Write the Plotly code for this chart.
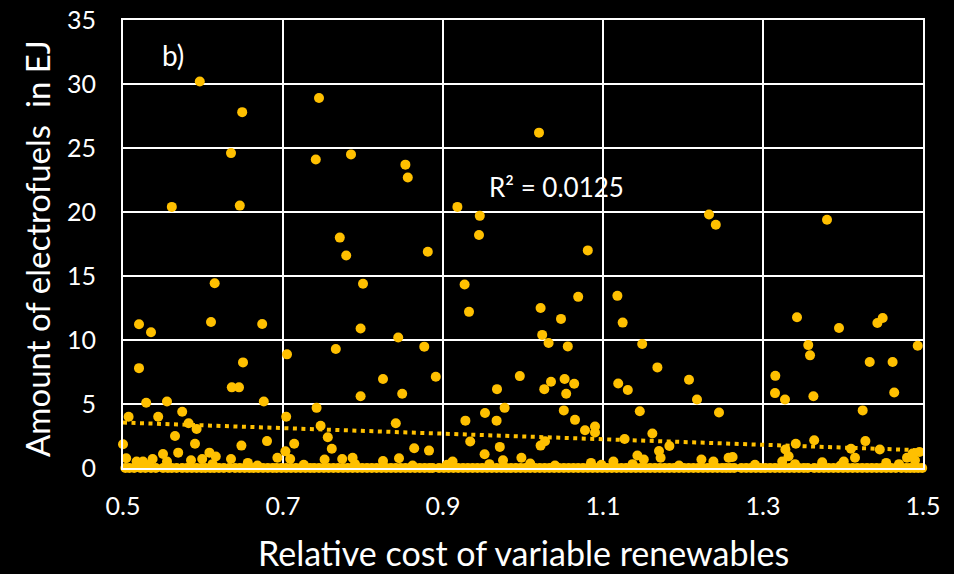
import plotly.graph_objects as go

GOLD = "#FFC000"

# Points clearly above the zero band (x = relative cost, y = EJ)
pts_x = [
    0.596, 0.649, 0.635, 0.646, 0.561, 0.745, 0.741, 0.785, 0.853, 0.856, 1.020, 0.918, 0.946, 0.945,
    0.771, 0.779, 0.881, 1.081, 1.2325, 1.241, 1.380,
    0.6146, 0.520, 0.535, 0.610, 0.674, 0.800, 0.797, 0.844, 0.705, 0.766, 0.520, 0.650, 0.825, 0.636, 0.645,
    0.927, 0.9325, 1.022, 1.069, 1.0475, 1.118, 1.1246, 1.024, 1.032, 1.056, 1.149, 0.8766, 0.891, 0.996,
    1.168, 0.9675, 1.035, 1.052, 1.064, 1.119, 1.131, 1.0266,
    1.3425, 1.395, 1.443, 1.4496, 1.3566, 1.3588, 1.4934, 1.4334, 1.462, 1.2075, 1.3154, 1.315, 1.464,
    0.529, 0.555, 0.676, 0.507, 0.544, 0.574, 0.582, 0.592, 0.704, 0.742, 0.747, 0.756, 0.565, 0.500,
    0.590, 0.648, 0.680, 0.714, 0.550, 0.569, 0.537, 0.504, 0.517, 0.525, 0.555, 0.585, 0.608, 0.616,
    0.599, 0.635, 0.693, 0.703, 0.709, 0.752, 0.656,
    0.797, 0.849, 0.841, 0.928, 0.9525, 0.967, 0.977, 0.934, 0.971, 0.864, 0.8825, 0.998, 0.845, 0.952,
    0.761, 0.774, 0.787, 0.825, 0.975, 0.912,
    1.054, 1.2175, 1.051, 1.065, 1.0775, 1.090, 1.090, 1.146, 1.245, 1.1617, 1.183, 1.127, 1.0275, 1.022,
    1.170, 1.172, 1.143, 1.151, 1.223, 1.238, 1.257, 1.113, 1.085, 1.009,
    1.3275, 1.363, 1.4246, 1.341, 1.364, 1.428, 1.410, 1.446, 1.415, 1.328, 1.332, 1.324, 1.262, 1.487,
    1.4955, 1.480, 1.490, 1.374, 1.401, 1.454,
]
pts_y = [
    30.2, 27.8, 24.6, 20.5, 20.4, 28.9, 24.1, 24.5, 23.7, 22.7, 26.2, 20.4, 19.7, 18.2,
    18.0, 16.6, 16.9, 17.0, 19.8, 19.0, 19.4,
    14.44, 11.23, 10.6, 11.4, 11.25, 14.4, 10.9, 10.2, 8.88, 9.3, 7.8, 8.25, 6.95, 6.3, 6.3,
    14.33, 12.2, 12.5, 13.37, 11.65, 13.45, 11.36, 10.4, 9.77, 9.5, 9.69, 9.48, 7.13, 7.18,
    7.86, 6.16, 6.74, 6.95, 6.58, 6.6, 6.1, 6.16,
    11.78, 10.94, 11.33, 11.72, 9.6, 8.8, 9.55, 8.28, 8.28, 6.9, 7.2, 5.85, 5.9,
    5.1, 5.2, 5.2, 4.0, 4.0, 4.4, 3.5, 3.05, 4.0, 4.7, 3.3, 2.4, 2.5, 1.86,
    1.9, 1.75, 2.1, 1.9, 1.1, 1.2, 0.7, 0.76, 0.5, 0.5, 0.5, 0.6, 1.2, 0.9,
    0.7, 0.7, 0.8, 1.3, 0.7, 0.66, 0.4,
    5.6, 5.8, 3.5, 3.7, 4.3, 3.7, 4.7, 2.07, 1.65, 1.54, 1.36, 0.8, 0.76, 1.07,
    1.5, 0.7, 0.8, 0.55, 0.6, 0.5,
    5.8, 5.35, 4.5, 3.76, 2.95, 3.24, 2.77, 4.44, 4.34, 2.69, 1.72, 2.27, 2.09, 1.75,
    1.33, 0.8, 0.97, 0.66, 0.66, 0.5, 0.8, 0.5, 0.4, 0.35,
    5.35, 5.6, 4.5, 1.9, 2.17, 2.1, 1.5, 1.44, 0.8, 1.44, 0.92, 0.5, 0.86, 1.13,
    1.25, 0.8, 0.6, 0.45, 0.5, 0.4,
]

# Dense band of runs with (almost) zero electrofuels
zero_x = [
    0.503, 0.508, 0.514, 0.522, 0.528, 0.535, 0.541, 0.550, 0.556, 0.561, 0.567, 0.574, 0.580, 0.586,
    0.592, 0.598, 0.603, 0.609, 0.614, 0.620, 0.626, 0.633, 0.640, 0.646, 0.652, 0.658, 0.663, 0.669,
    0.675, 0.681, 0.687, 0.692, 0.698, 0.704, 0.710, 0.716, 0.722, 0.728, 0.734, 0.739, 0.745, 0.751,
    0.757, 0.763, 0.769, 0.775, 0.781, 0.787, 0.793, 0.799, 0.805, 0.811, 0.817, 0.823, 0.829, 0.835,
    0.841, 0.847, 0.853, 0.859, 0.865, 0.871, 0.877, 0.883, 0.887, 0.895, 0.901, 0.907, 0.913, 0.919,
    0.925, 0.931, 0.937, 0.943, 0.949, 0.955, 0.961, 0.967, 0.973, 0.979, 0.985, 0.991, 0.997, 1.003,
    1.009, 1.015, 1.021, 1.027, 1.033, 1.039, 1.045, 1.051, 1.057, 1.063, 1.069, 1.075, 1.081, 1.087,
    1.093, 1.099, 1.105, 1.111, 1.117, 1.123, 1.129, 1.135, 1.141, 1.147, 1.153, 1.159, 1.165, 1.171,
    1.177, 1.183, 1.189, 1.195, 1.201, 1.207, 1.213, 1.219, 1.225, 1.231, 1.237, 1.243, 1.249, 1.254,
    1.259, 1.264, 1.273, 1.279, 1.285, 1.291, 1.297, 1.303, 1.309, 1.315, 1.321, 1.327, 1.333, 1.339,
    1.345, 1.351, 1.356, 1.364, 1.370, 1.376, 1.382, 1.388, 1.394, 1.400, 1.406, 1.412, 1.418, 1.424,
    1.430, 1.436, 1.442, 1.448, 1.454, 1.460, 1.466, 1.473, 1.479, 1.484, 1.489, 1.494, 1.499,
]
zero_y = [0.0] * len(zero_x)

# Small bumps just above the zero band
bump_x = [0.533, 0.612, 0.668, 0.726, 0.790, 0.862, 0.905, 0.958, 1.040, 1.098, 1.137, 1.195, 1.290, 1.340, 1.397, 1.470]
bump_y = [0.25, 0.3, 0.2, 0.25, 0.3, 0.2, 0.25, 0.3, 0.2, 0.25, 0.3, 0.2, 0.25, 0.3, 0.2, 0.3]

# Linear trendline endpoints (Excel fit, R² = 0.0125)
trend_x = [0.5, 1.5]
trend_y = [3.55, 1.38]

x_ticks = [0.5, 0.7, 0.9, 1.1, 1.3, 1.5]
x_tick_labels = ["0.5", "0.7", "0.9", "1.1", "1.3", "1.5"]
y_ticks = [0, 5, 10, 15, 20, 25, 30, 35]

FONT = "Lato, 'Open Sans', sans-serif"

fig = go.Figure()
fig.add_trace(go.Scatter(
    x=zero_x + bump_x + pts_x, y=zero_y + bump_y + pts_y, mode="markers",
    marker=dict(color=GOLD, size=10, line=dict(width=0)),
    cliponaxis=False, hoverinfo="skip", showlegend=False,
))
fig.add_trace(go.Scatter(
    x=trend_x, y=trend_y, mode="lines",
    line=dict(color=GOLD, width=4, dash="4px,4.5px"),
    cliponaxis=False, hoverinfo="skip", showlegend=False,
))

fig.update_layout(
    width=954, height=574,
    paper_bgcolor="black", plot_bgcolor="black",
    margin=dict(l=123, r=31, t=20, b=106, autoexpand=False),
    font=dict(family=FONT, color="white", size=25),
    xaxis=dict(
        range=[0.5, 1.5], tickvals=x_ticks, ticktext=x_tick_labels,
        showgrid=True, gridcolor="white", gridwidth=2,
        showline=True, linecolor="white", linewidth=2, mirror=True,
        zeroline=False, ticks="outside", ticklen=15, tickcolor="rgba(0,0,0,0)",
        tickfont=dict(size=25, color="white", family=FONT), automargin=False,
    ),
    yaxis=dict(
        range=[0, 35], tickvals=y_ticks,
        showgrid=True, gridcolor="white", gridwidth=2,
        showline=True, linecolor="white", linewidth=2, mirror=True,
        zeroline=False, ticks="outside", ticklen=20, tickcolor="rgba(0,0,0,0)",
        tickfont=dict(size=25, color="white", family=FONT), automargin=False,
    ),
    annotations=[
        dict(text="Relative cost of variable renewables", xref="paper", yref="paper",
             x=0.5, y=0, xanchor="center", yanchor="middle", yshift=-84,
             showarrow=False, font=dict(size=34, color="white", family=FONT)),
        dict(text="Amount of electrofuels  in EJ", xref="paper", yref="paper",
             x=0, y=0.5, xanchor="center", yanchor="middle", xshift=-86, yshift=-5,
             textangle=-90,
             showarrow=False, font=dict(size=33, color="white", family=FONT)),
        dict(text="b)", xref="paper", yref="paper", x=0.046, y=0.922,
             xanchor="left", yanchor="middle", showarrow=False,
             font=dict(size=28, color="white", family=FONT)),
        dict(text="R² = 0.0125", x=0.955, y=21.98, xanchor="left", yanchor="middle",
             showarrow=False, font=dict(size=26, color="white", family=FONT)),
    ],
)

fig.write_html("out.html")
